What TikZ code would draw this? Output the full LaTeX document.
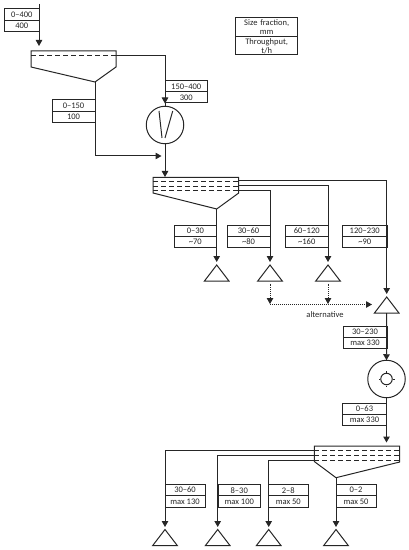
\documentclass[tikz,border=0pt]{standalone}
\usepackage{fontspec}
\setmainfont{Carlito}
\usetikzlibrary{arrows.meta,shapes.geometric,positioning}
\tikzset{
  x=1bp,y=-1bp,
  line/.style={line width=1bp,draw=black!85},
  flow/.style={line,-{Triangle[length=6bp,width=6.5bp]}},
  dotflow/.style={flow,densely dotted},
  cell/.style={line,rectangle,fill=white,inner sep=0pt,outer sep=0pt,text=black!85,font=\fontsize{8.5bp}{9bp}\selectfont,align=center},
  tri/.style={line,isosceles triangle,shape border rotate=90,isosceles triangle stretches,minimum width=24.5bp,minimum height=16bp,inner sep=0pt,outer sep=0pt},
  mach/.style={line,circle,minimum size=37.5bp,inner sep=0pt,outer sep=0pt},
  sieve/.style={line,dash pattern=on 5bp off 3bp},
}
% name, x-left, x-right, y-top, y-bottom, upper text, lower text
\newcommand{\flowbox}[7]{%
  \pgfmathsetmacro{\bw}{#3-#2}%
  \pgfmathsetmacro{\bh}{(#5-#4)/2}%
  \node[cell,anchor=north west,minimum width=\bw bp,minimum height=\bh bp] (#1a) at (#2,#4) {#6};
  \node[cell,anchor=north west,minimum width=\bw bp,minimum height=\bh bp] (#1b) at (#1a.south west) {#7};
}
\begin{document}
\begin{tikzpicture}
\useasboundingbox (0,0) rectangle (408,550);

% boxes
\flowbox{feed}{4.5}{39}{9}{31.5}{0–400}{400}
\flowbox{under}{52}{95}{100}{122.5}{0–150}{100}
\flowbox{over}{165}{207.5}{81}{103}{150–400}{300}
\flowbox{ba}{174}{216.7}{225}{247}{0–30}{\textasciitilde 70}
\flowbox{bb}{227}{270}{225}{247}{30–60}{\textasciitilde 80}
\flowbox{bc}{285.5}{328}{225}{247}{60–120}{\textasciitilde 160}
\flowbox{bd}{342.5}{387}{225}{247}{120–230}{\textasciitilde 90}
\flowbox{be}{343}{387}{326}{348}{30–230}{max 330}
\flowbox{bf}{342.5}{386.5}{403}{425}{0–63}{max 330}
\flowbox{bg}{165}{205}{484.5}{507}{30–60}{max 130}
\flowbox{bh}{218}{260.5}{484.5}{507}{8–30}{max 100}
\flowbox{bi}{268.5}{308}{484.5}{507}{2–8}{max 50}
\flowbox{bj}{336}{376}{484.5}{507}{0–2}{max 50}

% legend
\node[cell,anchor=north west,minimum width=62bp,minimum height=18.5bp,text width=58bp] (lega) at (235.7,18) {Size fraction,\\mm};
\node[cell,anchor=north west,minimum width=62bp,minimum height=18.5bp,text width=58bp] (legb) at (lega.south west) {Throughput,\\t/h};

% screen 1
\draw[line] (31,51) -- (116,51) -- (116,67) -- (95,82) -- (31,67) -- cycle;
\draw[sieve] (31,56) -- (116,56);
\coordinate (s1over) at (116,55.5);
\coordinate (s1apex) at (95,82);
\coordinate (s1top) at (39,46);
\coordinate (in1) at (39,4);

% screen 2
\draw[line] (153,177.5) -- (238.7,177.5) -- (238.7,193) -- (216.7,209) -- (153,193) -- cycle;
\draw[sieve] (153,181.5) -- (238.7,181.5);
\draw[sieve] (153,186.5) -- (238.7,186.5);
\draw[sieve] (153,191) -- (238.7,191);
\coordinate (s2a) at (238.7,181);
\coordinate (s2b) at (238.7,186);
\coordinate (s2c) at (238.7,191);
\coordinate (s2apex) at (216.7,209);
\coordinate (s2top) at (165,177);

% screen 3
\draw[line] (314.3,446) -- (399.7,446) -- (399.7,462) -- (336,477.7) -- (314.3,461.5) -- cycle;
\draw[sieve] (314.3,450.5) -- (399.7,450.5);
\draw[sieve] (314.3,455.5) -- (399.7,455.5);
\draw[sieve] (314.3,460.5) -- (399.7,460.5);
\coordinate (s3a) at (314.3,450);
\coordinate (s3b) at (314.3,455);
\coordinate (s3c) at (314.3,460);
\coordinate (s3apex) at (336,477.7);

% crushers
\node[mach] (cone) at (165,125) {};
\draw[line] (159,111) -- (162,138);
\draw[line] (165,138) -- (172.7,111);
\node[mach] (mill) at (386.5,379) {};
\node[line,circle,minimum size=11.5bp,inner sep=0pt] (millin) at (386.5,379) {};
\draw[line] (380,379) -- (378.5,379) (393,379) -- (394.5,379) (386.5,372.5) -- (386.5,371) (386.5,385.5) -- (386.5,387);

% stockpiles
\node[tri,anchor=apex] (ta) at (216.7,265) {};
\node[tri,anchor=apex] (tb) at (270,265) {};
\node[tri,anchor=apex] (tc) at (328,265) {};
\node[tri,anchor=apex] (td) at (386.7,297) {};
\node[tri,anchor=apex] (te) at (165,529.5) {};
\node[tri,anchor=apex] (tf) at (217.7,529.5) {};
\node[tri,anchor=apex] (tg) at (268.7,529.5) {};
\node[tri,anchor=apex] (th) at (336,529.5) {};

% connectors
\draw[flow] (in1) -- (s1top);
\draw[line] (s1over) -| (cone.north);
\draw[flow] (s1over) -| (165,103.5);
\draw[flow] (s1apex) |- (161.5,156);
\draw[flow] (cone.south) -- (s2top);

\draw[flow] (s2a) -| (386.7,294);
\draw[flow] (s2b) -| (328,262);
\draw[flow] (s2c) -| (270,262);
\draw[flow] (s2apex) -- (216.7,262);

\draw[dotflow] (270,283.5) -- (270,304);
\draw[dotflow] (328,283.5) -- (328,304);
\draw[dotflow] (270,304.5) -- (372,304.5);
\node[text=black!85,inner sep=0pt,font=\fontsize{8.5bp}{9bp}\selectfont] (alt) at (325,315) {alternative};

\draw[flow] (td.south) -- (mill.north);
\draw[flow] (mill.south) -- (386.5,442.5);

\draw[flow] (s3a) -| (165,527);
\draw[flow] (s3b) -| (217.7,527);
\draw[flow] (s3c) -| (268.7,527);
\draw[flow] (s3apex) -- (336,527);
\end{tikzpicture}
\end{document}
